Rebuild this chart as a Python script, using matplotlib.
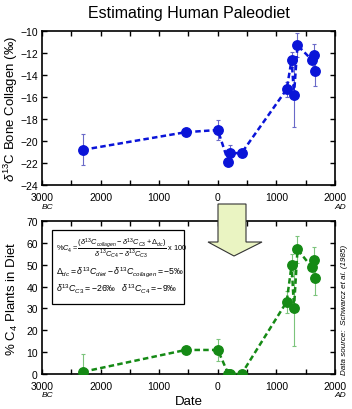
"""Estimating human paleodiet: d13C of bone collagen and %C4 plants vs date."""
import matplotlib
matplotlib.use("Agg")
import matplotlib.pyplot as plt
from matplotlib.patches import Polygon, Rectangle
from matplotlib.ticker import MultipleLocator, FuncFormatter

plt.rcParams["font.family"] = ["Liberation Sans", "DejaVu Sans"]
plt.rcParams["mathtext.fontset"] = "custom"
plt.rcParams["mathtext.rm"] = "Liberation Sans"
plt.rcParams["mathtext.it"] = "Liberation Sans:italic"

# ---------- data ----------
dates = [-2300, -550, 0, 180, 205, 405, 1175, 1260, 1300, 1360, 1600, 1640, 1660]
d13c = [-20.8, -19.2, -19.0, -21.9, -21.1, -21.1, -15.3, -12.6, -15.8, -11.3, -12.6, -12.2, -13.6]
d13c_err = [1.4, 0, 0.9, 0, 0.7, 0, 0.7, 0.7, 2.9, 1.1, 0, 1.0, 1.4]
pct_c4 = [1, 11, 11, 0, 0, 0, 33, 50, 30, 57, 49, 52, 44]
pct_c4_err = [8, 0, 5, 0, 0, 0, 5, 5, 17, 6, 0, 6, 8]

BLUE = "#0a14d8"
BLUE_ERR = "#6a6ac8"
GREEN = "#158a15"
GREEN_ERR = "#7cc47c"

W, H = 352, 410
fig = plt.figure(figsize=(W / 100, H / 100), dpi=100)

def px(x0, y0, x1, y1):
    return [x0 / W, 1 - y1 / H, (x1 - x0) / W, (y1 - y0) / H]

ax1 = fig.add_axes(px(42, 32, 335, 186))
ax2 = fig.add_axes(px(42, 222, 335, 375))

def style(ax):
    ax.set_xlim(-3000, 2000)
    ax.xaxis.set_major_locator(MultipleLocator(500))
    ax.xaxis.set_major_formatter(FuncFormatter(
        lambda v, _: f"{abs(int(v))}" if int(v) % 1000 == 0 else ""))
    ax.tick_params(direction="in", top=True, right=True, length=3.5,
                   width=1.0, labelsize=7.5)
    ax.tick_params(axis="x", pad=5)
    ax.tick_params(axis="y", pad=3)
    for s in ax.spines.values():
        s.set_linewidth(1.2)
    ax.yaxis.set_label_coords(-0.075, 0.5)
    ax.text(-2900, -0.137, "BC", transform=ax.get_xaxis_transform(),
            ha="center", va="center", fontsize=6, style="italic")
    ax.text(2085, -0.137, "AD", transform=ax.get_xaxis_transform(),
            ha="center", va="center", fontsize=6, style="italic")

# top panel
ax1.errorbar(dates, d13c, yerr=d13c_err, fmt="none", ecolor=BLUE_ERR,
             elinewidth=0.8, capsize=1.5, capthick=0.8, zorder=2)
ax1.plot(dates, d13c, "--", color=BLUE, lw=1.8, dashes=(2.2, 1.3),
         marker="o", ms=6.8, mec=BLUE, mfc=BLUE, zorder=3)
ax1.set_ylim(-24, -10)
ax1.yaxis.set_major_locator(MultipleLocator(2))
style(ax1)
ax1.set_ylabel(r"$\delta^{13}$C Bone Collagen (‰)", fontsize=9.5)
ax1.set_title("Estimating Human Paleodiet", fontsize=11.5, pad=10)

# bottom panel
ax2.errorbar(dates, pct_c4, yerr=pct_c4_err, fmt="none", ecolor=GREEN_ERR,
             elinewidth=0.8, capsize=1.5, capthick=0.8, zorder=2)
ax2.plot(dates, pct_c4, "--", color=GREEN, lw=1.8, dashes=(2.2, 1.3),
         marker="o", ms=6.8, mec=GREEN, mfc=GREEN, zorder=3)
ax2.set_ylim(0, 70)
ax2.yaxis.set_major_locator(MultipleLocator(10))
style(ax2)
ax2.set_ylabel(r"% C$_4$ Plants in Diet", fontsize=9.5)
ax2.set_xlabel("Date", fontsize=9.5, labelpad=3)

# formula box
box = Rectangle((52 / W, 1 - 305 / H), (184 - 52) / W, (305 - 231) / H,
                transform=fig.transFigure, fill=True, fc="white", ec="black",
                lw=0.9, zorder=5)
fig.patches.append(box)
fig.text(56 / W, 1 - 248 / H,
         r"$\%C_4 = \dfrac{(\delta^{13}C_{collagen} - \delta^{13}C_{C3} + \Delta_{dc})}"
         r"{\delta^{13}C_{C4} - \delta^{13}C_{C3}}$" + " x 100",
         fontsize=5.3, va="center", ha="left", zorder=6)
fig.text(56 / W, 1 - 272 / H,
         r"$\Delta_{dc} = \delta^{13}C_{diet} - \delta^{13}C_{collagen} = -5‰$",
         fontsize=6.3, va="center", ha="left", zorder=6)
fig.text(56 / W, 1 - 289 / H,
         r"$\delta^{13}C_{C3} = -26‰\quad \delta^{13}C_{C4} = -9‰$",
         fontsize=6.3, va="center", ha="left", zorder=6)

# arrow between panels
arrow_px = [(218, 205), (246, 205), (246, 243), (262, 243), (234, 257),
            (208, 243), (218, 243)]
arrow = Polygon([(x / W, 1 - y / H) for x, y in arrow_px], closed=True,
                transform=fig.transFigure, fc="#eaf4c2", ec="#333333",
                lw=0.8, zorder=10)
fig.patches.append(arrow)

fig.text(344 / W, 1 - 310 / H, "Data source:  Schwarcz et al. (1985)",
         rotation=90, fontsize=5.8, style="italic", ha="center", va="center")

fig.savefig("out.png", dpi=100, facecolor="white")
